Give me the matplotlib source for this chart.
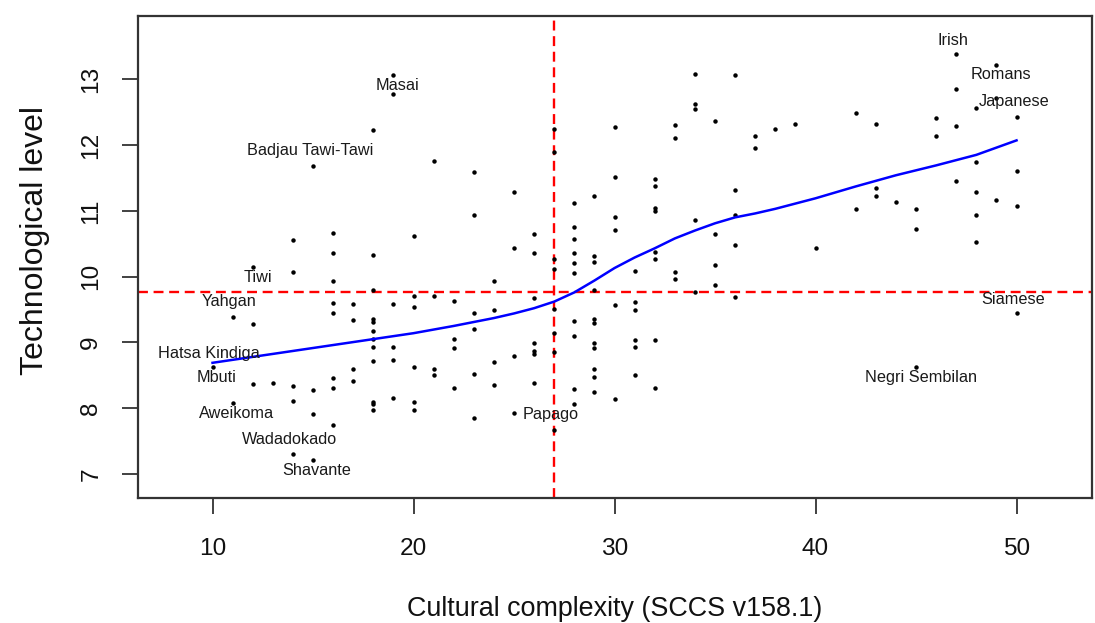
import matplotlib
matplotlib.use("Agg")
import matplotlib.pyplot as plt

plt.rcParams['font.family'] = ['Liberation Sans', 'DejaVu Sans']

# ---- data -------------------------------------------------------------
complexity = (
    [10] + [11]*2 + [12]*3 + [13] + [14]*5 + [15]*4 + [16]*8 + [17]*4 +
    [18]*12 + [19]*6 + [20]*6 + [21]*4 + [22]*4 + [23]*6 + [24]*4 + [25]*4 +
    [26]*7 + [27]*8 + [28]*10 + [29]*11 + [30]*6 + [31]*6 + [32]*8 + [33]*4 +
    [34]*5 + [35]*4 + [36]*5 + [37]*2 + [38] + [39] + [40] + [42]*2 + [43]*3 +
    [44] + [45]*3 + [46]*2 + [47]*4 + [48]*5 + [49]*3 + [50]*4
)
tech_level = [
    8.62,
    9.39, 8.08,
    10.14, 9.28, 8.37,
    8.39,
    10.56, 10.07, 8.34, 8.11, 7.30,
    11.68, 8.28, 7.91, 7.21,
    10.66, 10.36, 9.93, 9.60, 9.45, 8.46, 8.30, 7.74,
    9.59, 9.34, 8.60, 8.41,
    12.23, 10.33, 9.80, 9.35, 9.31, 9.17, 9.05, 8.93, 8.72, 8.10, 8.06, 7.98,
    13.06, 12.77, 9.59, 8.93, 8.74, 8.16,
    10.62, 9.70, 9.54, 8.63, 8.09, 7.97,
    11.76, 9.70, 8.60, 8.50,
    9.63, 9.05, 8.92, 8.31,
    11.59, 10.94, 9.44, 9.20, 8.52, 7.85,
    9.94, 9.49, 8.70, 8.36,
    11.28, 10.44, 8.80, 7.93,
    10.64, 10.36, 9.67, 8.99, 8.87, 8.83, 8.39,
    12.24, 11.89, 10.26, 10.12, 9.50, 9.14, 8.85, 7.67,
    11.12, 10.75, 10.57, 10.36, 10.21, 10.05, 9.33, 9.09, 8.29, 8.07,
    11.22, 10.32, 10.22, 9.80, 9.35, 9.30, 8.99, 8.92, 8.60, 8.47, 8.25,
    12.28, 11.51, 10.91, 10.71, 9.57, 8.14,
    10.09, 9.62, 9.49, 9.04, 8.93, 8.50,
    11.49, 11.37, 11.05, 11.00, 10.38, 10.26, 9.03, 8.31,
    12.30, 12.10, 10.07, 9.96,
    13.08, 12.63, 12.55, 10.86, 9.77,
    12.37, 10.65, 10.17, 9.87,
    13.06, 11.32, 10.93, 10.48, 9.69,
    12.14, 11.96,
    12.24,
    12.32,
    10.44,
    12.48, 11.03,
    12.32, 11.34, 11.22,
    11.14,
    11.02, 10.73, 8.62,
    12.41, 12.13,
    13.38, 12.85, 12.29, 11.46,
    12.56, 11.74, 11.28, 10.93, 10.52,
    13.22, 12.71, 11.16,
    12.43, 11.60, 11.07, 9.44,
]

smooth_x = [10, 12, 14, 16, 18, 20, 22, 24, 25, 26, 27, 28, 29, 30, 31, 32,
            33, 34, 35, 36, 37, 38, 40, 42, 44, 46, 48, 50]
smooth_y = [8.69, 8.78, 8.87, 8.96, 9.05, 9.14, 9.25, 9.37, 9.44, 9.52, 9.62,
            9.76, 9.94, 10.13, 10.29, 10.43, 10.58, 10.70, 10.81, 10.90, 10.96,
            11.03, 11.19, 11.37, 11.54, 11.69, 11.85, 12.07]

mean_complexity = 27.0
mean_tech = 9.77

label_names = ["Irish", "Romans", "Japanese", "Masai", "Badjau Tawi-Tawi",
               "Tiwi", "Yahgan", "Hatsa Kindiga", "Mbuti", "Aweikoma",
               "Wadadokado", "Shavante", "Papago", "Siamese", "Negri Sembilan"]
label_x = [46.83, 49.23, 49.86, 19.21, 14.85, 12.25, 10.84, 9.81, 10.21, 11.2,
           13.82, 15.18, 26.84, 49.84, 45.23]
label_y = [13.59, 13.07, 12.66, 12.90, 11.92, 9.99, 9.62, 8.83, 8.46, 7.92,
           7.52, 7.06, 7.91, 9.65, 8.47]

x_ticks = [10, 20, 30, 40, 50]
y_ticks = [7, 8, 9, 10, 11, 12, 13]

# ---- figure -----------------------------------------------------------
fig = plt.figure(figsize=(10.95, 6.23), dpi=100)
ax = fig.add_axes([0.1258, 0.2006, 0.9970 - 0.1258, 0.9743 - 0.2006])

ax.plot(complexity, tech_level, 'o', color='black', markersize=3.2,
        markeredgewidth=0, zorder=3)
ax.plot(smooth_x, smooth_y, color='#0000FF', lw=1.8, zorder=4)
ax.axvline(mean_complexity, color='#FF0000', lw=1.7,
           linestyle=(0, (4.2, 2.4)), zorder=2)
ax.axhline(mean_tech, color='#FF0000', lw=1.7,
           linestyle=(0, (4.2, 2.4)), zorder=2)

for name, lx, ly in zip(label_names, label_x, label_y):
    ax.text(lx, ly, name, ha='center', va='center', fontsize=11.7,
            color='#1a1a1a', zorder=5)

ax.set_xlim(6.28, 53.74)
ax.set_ylim(6.635, 13.96)
ax.set_xticks(x_ticks)
ax.set_yticks(y_ticks)
ax.set_yticklabels([str(v) for v in y_ticks], rotation=90, va='center')

for sp in ax.spines.values():
    sp.set_color('#333333')
    sp.set_linewidth(1.6)

ax.tick_params(axis='both', direction='out', length=11.5, width=1.3,
               color='#333333', labelsize=17.6, labelcolor='#111111')
ax.tick_params(axis='x', pad=17)
ax.tick_params(axis='y', pad=14)

ax.set_xlabel("Cultural complexity (SCCS v158.1)", fontsize=19.4,
              color='#111111', labelpad=26)
ax.set_ylabel("Technological level", fontsize=23, color='#111111',
              labelpad=22)
ax.yaxis.label.set_y(0.535)

fig.savefig("out.png", dpi=100)
